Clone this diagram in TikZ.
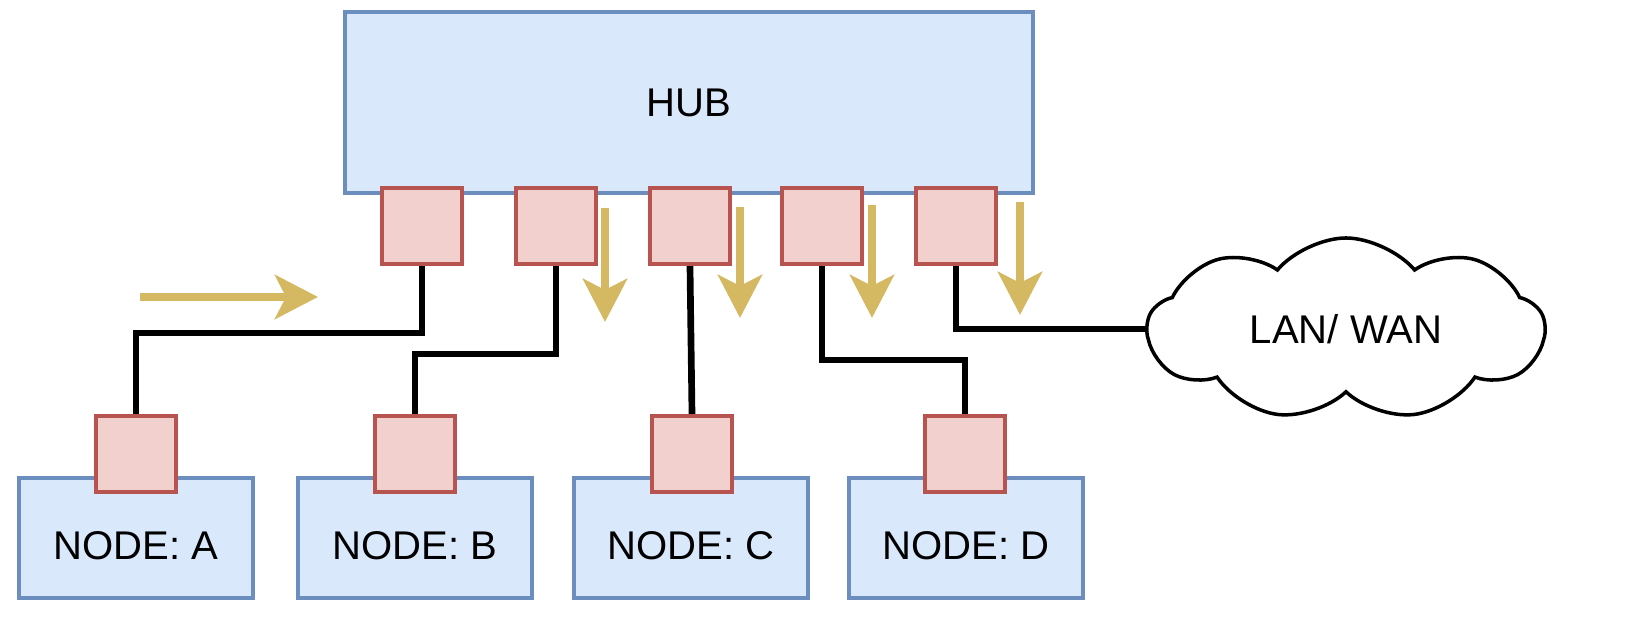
\documentclass[tikz,border=0pt]{standalone}
\usepackage{fontspec}
\setmainfont{Liberation Sans}
\usetikzlibrary{arrows.meta,shapes.symbols}
\definecolor{boxfill}{HTML}{DAE8FC}
\definecolor{boxline}{HTML}{6C8EBF}
\definecolor{portfill}{HTML}{F2D0CE}
\definecolor{portline}{HTML}{B85450}
\definecolor{flow}{HTML}{D4B862}
\begin{document}
\begin{tikzpicture}[
        box/.style={draw=boxline,fill=boxfill,line width=1.2pt,inner sep=0pt,font=\fontsize{11.4}{13}\selectfont},
        station/.style={box,minimum width=2.34cm,minimum height=1.2cm,text height=0.5cm,text depth=0.07cm},
        port/.style={draw=portline,fill=portfill,line width=1.2pt,minimum width=0.8cm,minimum height=0.76cm,inner sep=0pt},
        wire/.style={line width=1.9pt,line join=miter},
        flowarrow/.style={draw=flow,line width=2.3pt,-{Stealth[length=0.43cm,width=0.44cm,inset=0.11cm]}}
    ]
                \useasboundingbox (0,0) rectangle (16.36,6.42);
                \node[box,minimum width=6.88cm,minimum height=1.81cm] (hub) at (6.89,5.395) {HUB};
                \node[port] (p1) at (4.22,4.16) {};
                \node[port] (p2) at (5.56,4.16) {};
                \node[port] (p3) at (6.90,4.16) {};
                \node[port] (p4) at (8.22,4.16) {};
                \node[port] (p5) at (9.56,4.16) {};
                % end stations
                \node[station] (nA) at (1.36,1.04) {NODE: A};
                \node[station] (nB) at (4.15,1.04) {NODE: B};
                \node[station] (nC) at (6.91,1.04) {NODE: C};
                \node[station] (nD) at (9.66,1.04) {NODE: D};
                \node[port] (pA) at (1.36,1.88) {};
                \node[port] (pB) at (4.15,1.88) {};
                \node[port] (pC) at (6.92,1.88) {};
                \node[port] (pD) at (9.65,1.88) {};
                \node[cloud,draw,line width=1pt,cloud puffs=9,cloud puff arc=100,aspect=2.2,minimum width=3.97cm,minimum height=1.82cm,inner sep=0pt,font=\fontsize{11.4}{13}\selectfont] (net) at (13.46,3.13) {LAN/ WAN};
                % cables
                \draw[wire] (pA.north) -- ++(0,0.81) -| (p1.south);
                \draw[wire] (pB.north) -- ++(0,0.60) -| (p2.south);
                \draw[wire] (pC.north) -- (p3.south);
                \draw[wire] (p4.south) -- ++(0,-0.94) -| (pD.north);
                \draw[wire] (p5.south) |- (net.west);
                % traffic
                \draw[flowarrow] (1.40,3.45) -- (3.18,3.45);
                \draw[flowarrow] (6.05,4.34) -- (6.05,3.20);
                \draw[flowarrow] (7.40,4.35) -- (7.40,3.24);
                \draw[flowarrow] (8.72,4.37) -- (8.72,3.24);
                \draw[flowarrow] (10.20,4.40) -- (10.20,3.27);
            \end{tikzpicture}
\end{document}
